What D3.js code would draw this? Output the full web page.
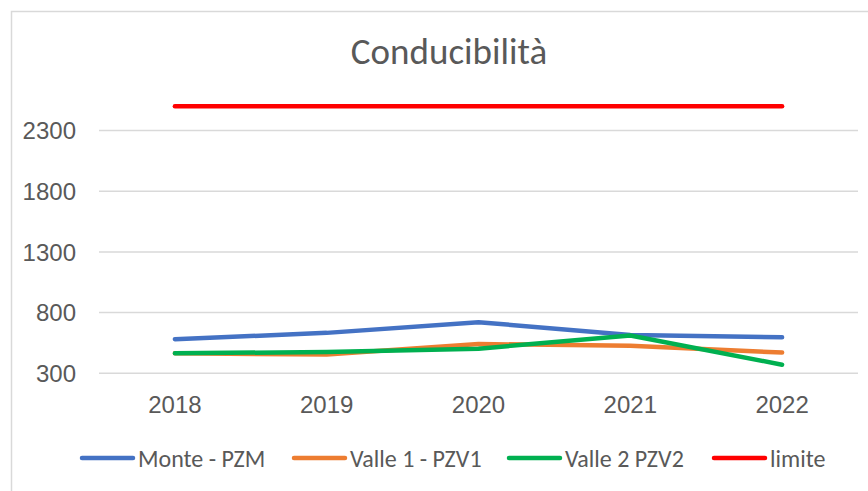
<!DOCTYPE html>
<html>
<head>
<meta charset="utf-8">
<script src="https://cdn.jsdelivr.net/npm/d3@7"></script>
<style>
  body { margin: 0; background: #fff; }
  svg { display: block; font-family: Carlito, "Liberation Sans Narrow", "Liberation Sans", sans-serif; }
</style>
</head>
<body>
<svg id="chart" width="868" height="491"></svg>
<script>
// Chart data
const years = ['2018', '2019', '2020', '2021', '2022'];
const monte = [581, 633, 721, 616, 597];
const valle1 = [465, 455, 541, 527, 471];
const valle2 = [465, 475, 503, 611, 371];
const limite = [2500, 2500, 2500, 2500, 2500];
const yTicks = [300, 800, 1300, 1800, 2300];

const seriesNames = ['Monte - PZM', 'Valle 1 - PZV1', 'Valle 2 PZV2', 'limite'];
const seriesValues = [monte, valle1, valle2, limite];
const seriesColors = ['#4472C4', '#ED7D31', '#00B050', '#FF0000'];

const svg = d3.select('#chart');
const textColor = '#595959';
const gridColor = '#d9d9d9';

// chart frame
svg.append('rect')
  .attr('x', 11.5).attr('y', 11.5)
  .attr('width', 900).attr('height', 520)
  .attr('fill', '#fff')
  .attr('stroke', gridColor)
  .attr('stroke-width', 1.5);

// title
svg.append('text')
  .attr('x', 449).attr('y', 64)
  .attr('text-anchor', 'middle')
  .attr('fill', textColor)
  .style('font-size', '37px')
  .text('Conducibilità');

const x = d3.scaleBand().domain(years).range([99, 858]);
const y = d3.scaleLinear().domain([300, 2500]).range([373.3, 106.2]);

// gridlines + y labels
const yAxis = d3.axisLeft(y).tickValues(yTicks).tickFormat(d3.format('d')).tickSize(0).tickPadding(23);
const gy = svg.append('g').attr('transform', 'translate(99,0)').call(yAxis);
gy.select('.domain').remove();
gy.selectAll('text').attr('fill', textColor).style('font-size', '24px').attr('dy', '0.34em');

svg.append('g').selectAll('line')
  .data(yTicks)
  .enter()
  .append('line')
  .attr('x1', 99).attr('x2', 858)
  .attr('y1', d => y(d)).attr('y2', d => y(d))
  .attr('stroke', gridColor)
  .attr('stroke-width', 1.5);

// x labels
const xAxis = d3.axisBottom(x).tickSize(0).tickPadding(23);
const gx = svg.append('g').attr('transform', `translate(0,${y(300)})`).call(xAxis);
gx.select('.domain').remove();
gx.selectAll('text').attr('fill', textColor).style('font-size', '24px');

// series lines
const line = d3.line()
  .x((d, i) => x(years[i]) + x.bandwidth() / 2)
  .y(d => y(d));

seriesValues.forEach((vals, i) => {
  svg.append('path')
    .datum(vals)
    .attr('fill', 'none')
    .attr('stroke', seriesColors[i])
    .attr('stroke-width', 4.5)
    .attr('stroke-linecap', 'round')
    .attr('stroke-linejoin', 'round')
    .attr('d', line);
});

// legend
const legendX = [80, 292, 507, 712];
const legend = svg.append('g');
seriesNames.forEach((name, i) => {
  legend.append('line')
    .attr('x1', legendX[i] + 2).attr('x2', legendX[i] + 53)
    .attr('y1', 458).attr('y2', 458)
    .attr('stroke', seriesColors[i])
    .attr('stroke-width', 4.5)
    .attr('stroke-linecap', 'round');
  legend.append('text')
    .attr('x', legendX[i] + 58).attr('y', 466.5)
    .attr('fill', textColor)
    .style('font-size', '24px')
    .text(name);
});
</script>
</body>
</html>
